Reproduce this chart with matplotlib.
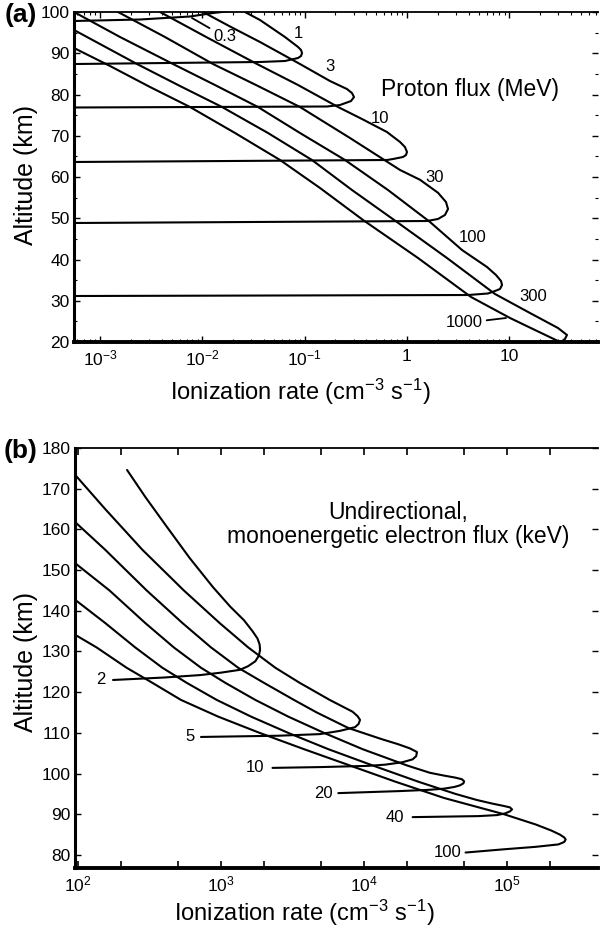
import numpy as np
import matplotlib.pyplot as plt
from matplotlib.ticker import FixedLocator, LogLocator, NullFormatter

plt.rcParams['font.family'] = ['Liberation Sans', 'DejaVu Sans']
plt.rcParams['mathtext.default'] = 'regular'

# ---- (a) proton ionization profiles: log10 rate (cm^-3 s^-1) vs altitude (km)
p03_lg = [-3.255, -2.610, -2.121, -1.896, -1.808, -1.632]
p03_alt = [97.82, 98.18, 98.91, 99.76, 100.0, 100.48]

p1_lg = [-1.584, -1.437, -1.193, -1.065, -1.036, -1.026, -1.036, -1.065, -1.193, -1.437, -3.255]
p1_alt = [100.0, 98.06, 93.94, 91.52, 90.79, 90.06, 89.33, 88.85, 88.12, 87.88, 87.39]

p3_lg = [-1.994, -1.720, -1.437, -1.046, -0.753, -0.587, -0.538, -0.518, -0.547, -0.655,
         -0.782, -3.255]
p3_alt = [100.0, 96.36, 92.73, 87.39, 83.27, 81.33, 80.36, 79.39, 78.42, 77.45, 77.09, 76.85]

p10_lg = [-2.414, -1.945, -1.466, -1.065, -0.674, -0.440, -0.196, -0.068, -0.020, 0.0,
          -0.010, -0.039, -0.137, -0.196, -3.255]
p10_alt = [100.0, 93.70, 87.39, 82.30, 76.97, 74.06, 70.91, 68.48, 67.27, 66.06, 65.33,
           64.85, 64.36, 64.12, 63.64]

p30_lg = [-2.825, -2.366, -1.896, -1.476, -1.046, -0.557, -0.068, 0.127, 0.303, 0.381,
          0.401, 0.371, 0.303, 0.196, -3.255]
p30_alt = [100.0, 93.94, 87.39, 82.30, 76.97, 69.45, 61.70, 59.33, 56.18, 53.94, 52.24,
           50.79, 49.82, 49.33, 48.85]

p100_lg = [-3.255, -2.805, -2.287, -1.877, -1.457, -1.046, -0.606, -0.186, 0.225, 0.538,
           0.782, 0.870, 0.919, 0.929, 0.909, 0.860, 0.792, 0.596, -3.255]
p100_alt = [100.0, 93.94, 87.39, 82.30, 76.97, 70.67, 64.12, 56.85, 49.09, 42.30, 38.18,
            36.24, 34.79, 33.82, 32.85, 32.36, 31.76, 31.39, 31.15]

p300_lg = [-3.255, -2.639, -2.219, -1.808, -1.359, -0.929, -0.538, -0.098, 0.391, 0.860,
           1.202, 1.476, 1.564, 1.544, 1.505]
p300_alt = [95.64, 87.39, 82.06, 76.97, 70.67, 64.12, 56.85, 49.09, 40.36, 31.64, 27.03,
            23.39, 21.70, 20.73, 20.0]

p1000_lg = [-3.255, -2.903, -2.512, -2.121, -1.681, -1.241, -0.850, -0.430, 0.108, 0.626,
            1.007, 1.271, 1.496]
p1000_alt = [91.27, 86.91, 81.82, 76.97, 70.67, 64.12, 57.33, 49.58, 40.36, 30.91, 25.82,
             22.67, 20.0]

proton_curves = [(p03_lg, p03_alt), (p1_lg, p1_alt), (p3_lg, p3_alt), (p10_lg, p10_alt),
                 (p30_lg, p30_alt), (p100_lg, p100_alt), (p300_lg, p300_alt),
                 (p1000_lg, p1000_alt)]
proton_names = ['0.3', '1', '3', '10', '30', '100', '300', '1000']
proton_name_lg = [-1.779, -1.065, -0.753, -0.264, 0.274, 0.645, 1.232, 0.557]
proton_name_alt = [93.94, 94.67, 86.67, 74.30, 60.0, 45.45, 30.91, 24.61]

# ---- (b) electron ionization profiles
e2_lg = [2.343, 2.47, 2.622, 2.78, 2.944, 3.065, 3.16, 3.22, 3.255, 3.27, 3.273, 3.265,
         3.24, 3.19, 3.133, 3.0, 2.853, 2.6, 2.245]
e2_alt = [174.6, 168, 160.6, 153, 145.8, 141, 137.7, 135, 133.2, 131.7, 130.4, 129.0,
          127.6, 126.4, 125.5, 124.8, 124.2, 123.6, 123.0]

e5_lg = [1.98, 2.19, 2.45, 2.74, 2.99, 3.19, 3.38, 3.55, 3.76, 3.92, 3.955, 3.972, 3.962,
         3.937, 3.832, 3.692, 3.40, 2.86]
e5_alt = [173.4, 165, 155, 145, 137, 131, 126, 122.3, 118.1, 115.2, 114.1, 113.2, 112.2,
          111.4, 110.5, 109.7, 109.3, 109.0]

e10_lg = [1.98, 2.19, 2.48, 2.73, 2.93, 3.12, 3.30, 3.51, 3.67, 3.89, 4.12, 4.24, 4.32,
          4.37, 4.365, 4.34, 4.27, 4.15, 4.03, 3.70, 3.36]
e10_alt = [161.8, 155, 145, 137, 131, 126, 122.3, 118.1, 115, 111.2, 108.5, 107.2, 106.2,
           105.3, 104.3, 103.5, 102.8, 102.2, 101.9, 101.6, 101.4]

e20_lg = [1.98, 2.22, 2.47, 2.67, 2.86, 3.03, 3.24, 3.47, 3.72, 3.99, 4.30, 4.46, 4.56,
          4.64, 4.685, 4.70, 4.695, 4.67, 4.63, 4.56, 4.45, 4.25, 3.82]
e20_alt = [151.7, 145, 137, 131, 126, 122.3, 118.1, 114, 110, 106, 102, 100.2, 99.5,
           99.0, 98.6, 98.1, 97.6, 97.1, 96.7, 96.3, 96.0, 95.7, 95.2]

e40_lg = [1.98, 2.19, 2.40, 2.59, 2.76, 2.97, 3.21, 3.47, 3.75, 4.06, 4.38, 4.64, 4.79,
          4.90, 4.97, 5.02, 5.035, 5.02, 4.985, 4.93, 4.80, 4.34]
e40_alt = [142.7, 137, 131, 126, 122.3, 118.1, 114, 110, 106, 102, 98, 95, 93.5, 92.6,
           92.1, 91.7, 91.2, 90.7, 90.2, 89.8, 89.55, 89.3]

e100_lg = [1.98, 2.13, 2.34, 2.52, 2.72, 2.98, 3.27, 3.58, 3.90, 4.22, 4.56, 4.98, 5.20,
           5.31, 5.37, 5.40, 5.41, 5.40, 5.36, 5.2, 4.98, 4.71]
e100_alt = [134.1, 131, 126, 122.3, 118.1, 114, 110, 106, 102, 98, 94, 90, 87.5, 86, 85,
            84.3, 83.8, 83.2, 82.6, 82.0, 81.4, 80.6]

electron_curves = [(e2_lg, e2_alt), (e5_lg, e5_alt), (e10_lg, e10_alt), (e20_lg, e20_alt),
                   (e40_lg, e40_alt), (e100_lg, e100_alt)]
electron_names = ['2', '5', '10', '20', '40', '100']
electron_name_lg = [2.161, 2.783, 3.238, 3.713, 4.217, 4.587]
electron_name_alt = [123.0, 109.0, 101.4, 95.2, 89.1, 80.7]

LW = 1.5
TICK_FS = 12.5
XLABEL_FS = 17
YLABEL_FS = 18


def style_axes(ax):
    ax.spines['right'].set_visible(False)
    ax.spines['top'].set_linewidth(1.3)
    ax.spines['left'].set_linewidth(2.2)
    ax.spines['bottom'].set_linewidth(2.8)
    ax.tick_params(which='both', direction='in', top=True, right=True, labelsize=TICK_FS)
    ax.tick_params(which='major', length=4.5, width=1.0, pad=3)
    ax.tick_params(which='minor', length=2.5, width=0.8)
    ax.tick_params(axis='x', which='major', pad=5)


fig = plt.figure(figsize=(6.01, 9.26), dpi=100)

# ---------------- panel (a)
ax1 = fig.add_axes([74 / 601, 1 - 342 / 926, 524 / 601, 330 / 926])
for lg, alt in proton_curves:
    ax1.plot(10 ** np.array(lg), alt, color='black', lw=LW,
             solid_capstyle='round', solid_joinstyle='round')
ax1.set_xscale('log')
ax1.set_xlim(10 ** -3.255, 10 ** 1.867)
ax1.set_ylim(20, 100)
ax1.set_xticks([1e-3, 1e-2, 1e-1, 1, 10])
ax1.set_xticklabels(['$10^{-3}$', '$10^{-2}$', '$10^{-1}$', '1', '10'])
ax1.xaxis.set_minor_locator(LogLocator(base=10, subs=np.arange(2, 10)))
ax1.xaxis.set_minor_formatter(NullFormatter())
ax1.set_yticks(np.arange(20, 101, 10))
ax1.yaxis.set_minor_locator(FixedLocator(np.arange(25, 100, 10)))
style_axes(ax1)

for name, lg, alt in zip(proton_names, proton_name_lg, proton_name_alt):
    if name in ('0.3', '1000'):
        continue
    ax1.text(10 ** lg, alt, name, fontsize=12, ha='center', va='center')
ax1.annotate('0.3', xy=(10 ** -2.102, 98.55), xytext=(10 ** proton_name_lg[0], proton_name_alt[0]),
             fontsize=12, ha='center', va='center',
             arrowprops=dict(arrowstyle='-', lw=1.3, shrinkA=1, shrinkB=0))
ax1.annotate('1000', xy=(10 ** 0.968, 25.82), xytext=(10 ** proton_name_lg[7], proton_name_alt[7]),
             fontsize=12, ha='center', va='center',
             arrowprops=dict(arrowstyle='-', lw=1.3, shrinkA=1, shrinkB=0))
ax1.text(0.756, 0.764, 'Proton flux (MeV)', transform=ax1.transAxes,
         fontsize=16.5, ha='center', va='center')
ax1.set_xlabel('Ionization rate (cm$^{-3}$ s$^{-1}$)', fontsize=XLABEL_FS)
ax1.set_ylabel('Altitude (km)', fontsize=YLABEL_FS)
ax1.xaxis.set_label_coords(0.431, -0.105)
ax1.yaxis.set_label_coords(-0.068, 0.506)

# ---------------- panel (b)
ax2 = fig.add_axes([75 / 601, 1 - 868 / 926, 523 / 601, 420 / 926])
for lg, alt in electron_curves:
    ax2.plot(10 ** np.array(lg), alt, color='black', lw=LW,
             solid_capstyle='round', solid_joinstyle='round')
ax2.set_xscale('log')
ax2.set_xlim(10 ** 1.979, 10 ** 5.636)
ax2.set_ylim(76.8, 180)
ax2.set_xticks([1e2, 1e3, 1e4, 1e5])
ax2.set_xticklabels(['$10^{2}$', '$10^{3}$', '$10^{4}$', '$10^{5}$'])
ax2.xaxis.set_minor_locator(LogLocator(base=10, subs=(2, 5)))
ax2.xaxis.set_minor_formatter(NullFormatter())
ax2.set_yticks(np.arange(80, 181, 10))
style_axes(ax2)
ax2.tick_params(axis='x', which='both', length=5, width=1.2)

for name, lg, alt in zip(electron_names, electron_name_lg, electron_name_alt):
    ax2.text(10 ** lg, alt, name, fontsize=12, ha='center', va='center')
ax2.text(0.6176, 0.817, 'Undirectional,\nmonoenergetic electron flux (keV)',
         transform=ax2.transAxes, fontsize=16.5, ha='center', va='center', linespacing=1.05)
ax2.set_xlabel('Ionization rate (cm$^{-3}$ s$^{-1}$)', fontsize=XLABEL_FS)
ax2.set_ylabel('Altitude (km)', fontsize=YLABEL_FS)
ax2.xaxis.set_label_coords(0.438, -0.07)
ax2.yaxis.set_label_coords(-0.07, 0.49)

fig.text(21 / 601, 1 - 15 / 926, '(a)', fontsize=19, fontweight='bold', ha='center', va='center')
fig.text(21 / 601, 1 - 451 / 926, '(b)', fontsize=19, fontweight='bold', ha='center', va='center')

fig.savefig('out.png', dpi=100)
